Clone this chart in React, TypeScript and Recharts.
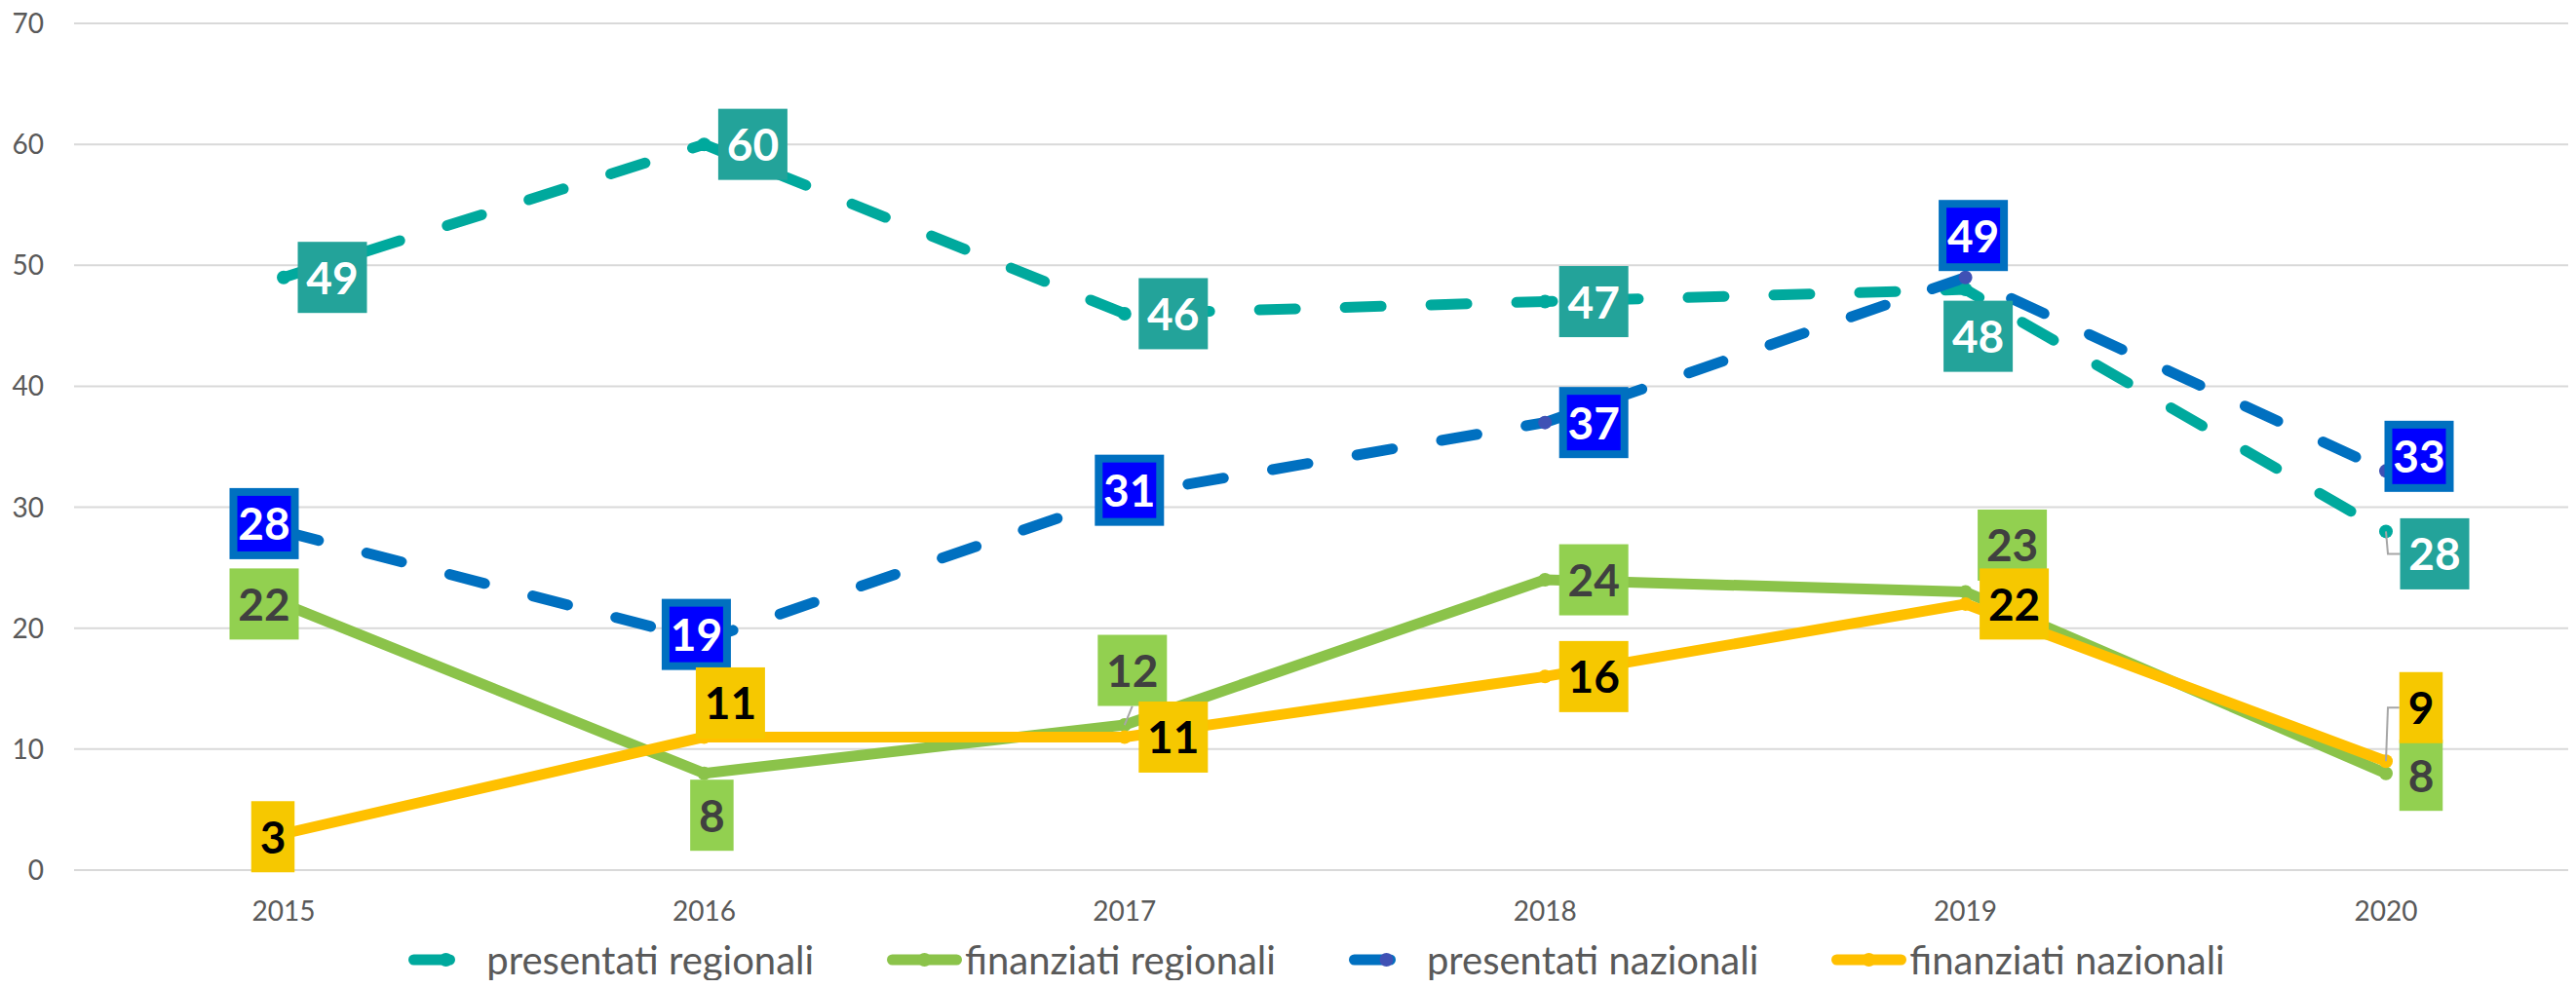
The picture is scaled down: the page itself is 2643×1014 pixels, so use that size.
import { LineChart, Line, XAxis, YAxis, CartesianGrid, Legend, LabelList } from "recharts"

const years = ["2015", "2016", "2017", "2018", "2019", "2020"]
const presentatiRegionali = [49, 60, 46, 47, 48, 28]
const finanziatiRegionali = [22, 8, 12, 24, 23, 8]
const presentatiNazionali = [28, 19, 31, 37, 49, 33]
const finanziatiNazionali = [3, 11, 11, 16, 22, 9]
const yTicks = [0, 10, 20, 30, 40, 50, 60, 70]

const rows = years.map((year, i) => ({
  year,
  presReg: presentatiRegionali[i],
  finReg: finanziatiRegionali[i],
  presNaz: presentatiNazionali[i],
  finNaz: finanziatiNazionali[i],
}))

const FONT = "Lato, 'Open Sans', sans-serif"

// label box placement relative to each point (dx, dy of the box centre), plus optional leader line
const SERIES = [
  {
    key: "presReg",
    name: "presentati regionali",
    line: "#00A99D",
    dot: "#00A99D",
    dash: "37 51",
    box: "#23A39A",
    border: "",
    text: "#ffffff",
    offsets: [[50, 0], [50, 0], [50, 0], [50, 0], [13, 48], [50, 23]],
    leaders: ["", "", "", "", "", "elbow"],
  },
  {
    key: "finReg",
    name: "finanziati regionali",
    line: "#8BC34A",
    dot: "#8BC34A",
    dash: "",
    box: "#92D050",
    border: "",
    text: "#404040",
    offsets: [[-20, 0], [8, 43], [8, -56], [50, 0], [48, -48], [36, 2]],
    leaders: ["", "", "line", "", "", ""],
  },
  {
    key: "presNaz",
    name: "presentati nazionali",
    line: "#0070C0",
    dot: "#3F51B5",
    dash: "37 51",
    box: "#0000FF",
    border: "#0070C0",
    text: "#ffffff",
    offsets: [[-20, -8], [-8, -6], [5, -5], [50, 0], [8, -43], [34, -15]],
    leaders: ["", "", "", "", "", ""],
  },
  {
    key: "finNaz",
    name: "finanziati nazionali",
    line: "#FFC000",
    dot: "#FFC000",
    dash: "",
    box: "#F6C800",
    border: "",
    text: "#000000",
    offsets: [[-11, 3], [27, -35], [50, 0], [50, 0], [50, 0], [36, -55]],
    leaders: ["", "", "", "", "", "elbow"],
  },
]

function BoxLabel(props: any) {
  const { x, y, value, index, s } = props
  if (x == null || y == null) return null
  const [dx, dy] = s.offsets[index] || [0, 0]
  const str = String(value)
  const w = str.length * 26.5 + 18
  const h = 73
  const cx = x + dx
  const cy = y + dy
  const left = cx - w / 2
  const top = cy - h / 2
  const kind = s.leaders[index]
  return (
    <g>
      {kind === "elbow" && (
        <polyline
          points={`${x},${y} ${x + 2},${cy} ${left},${cy}`}
          fill="none"
          stroke="#A6A6A6"
          strokeWidth={2}
        />
      )}
      {kind === "line" && (
        <line x1={x} y1={y} x2={cx} y2={top + h} stroke="#A6A6A6" strokeWidth={2} />
      )}
      {s.border ? (
        <rect x={left + 4} y={top + 4} width={w - 8} height={h - 8} fill={s.box} stroke={s.border} strokeWidth={8} />
      ) : (
        <rect x={left} y={top} width={w} height={h} fill={s.box} />
      )}
      <text
        x={cx}
        y={cy + 17}
        textAnchor="middle"
        fontFamily={FONT}
        fontWeight={700}
        fontSize={46}
        fill={s.text}
      >
        {str}
      </text>
    </g>
  )
}

function LegendRow() {
  return (
    <div
      style={{
        display: "flex",
        justifyContent: "center",
        alignItems: "center",
        height: 50,
        gap: 75,
        fontFamily: FONT,
        fontSize: 40,
        color: "#595959",
        whiteSpace: "nowrap",
      }}
    >
      {SERIES.map((s) => (
        <div key={s.key} style={{ display: "flex", alignItems: "center" }}>
          <svg width={77} height={20}>
            <line
              x1={5.5}
              y1={10}
              x2={71.5}
              y2={10}
              stroke={s.line}
              strokeWidth={11}
              strokeLinecap="round"
              strokeDasharray={s.dash || undefined}
            />
            <circle cx={38.5} cy={10} r={7} fill={s.dot} />
          </svg>
          <span style={{ marginLeft: 3 }}>{s.name}</span>
        </div>
      ))}
    </div>
  )
}

export default function App() {
  return (
    <div style={{ margin: -8, width: 2643, height: 1014, overflow: "hidden", background: "#fff" }}>
      <LineChart
        width={2702}
        height={1010}
        data={rows}
        margin={{ top: 24, right: 39, bottom: 0, left: 0 }}
      >
        <CartesianGrid vertical={false} stroke="#D9D9D9" strokeWidth={2} />
        <XAxis
          dataKey="year"
          axisLine={false}
          tickLine={false}
          tickSize={0}
          tickMargin={32}
          height={67}
          interval={0}
          padding={{ left: 215, right: 215 }}
          tick={{ fontFamily: FONT, fontSize: 28, fill: "#595959" }}
        />
        <YAxis
          domain={[0, 70]}
          ticks={yTicks}
          width={76}
          axisLine={false}
          tickLine={false}
          tickSize={0}
          tickMargin={31}
          tick={{ fontFamily: FONT, fontSize: 28, fill: "#595959" }}
        />
        <Legend
          verticalAlign="bottom"
          wrapperStyle={{ left: 0, width: 2702 }}
          content={() => <LegendRow />}
        />
        {SERIES.map((s) => (
          <Line
            key={s.key}
            type="linear"
            dataKey={s.key}
            name={s.name}
            stroke={s.line}
            strokeWidth={11}
            strokeLinecap="round"
            strokeLinejoin="round"
            strokeDasharray={s.dash || undefined}
            dot={{ r: 7, fill: s.dot, stroke: "none" }}
            activeDot={false}
            isAnimationActive={false}
          >
            <LabelList dataKey={s.key} content={(p: any) => <BoxLabel {...p} s={s} />} />
          </Line>
        ))}
      </LineChart>
    </div>
  )
}
